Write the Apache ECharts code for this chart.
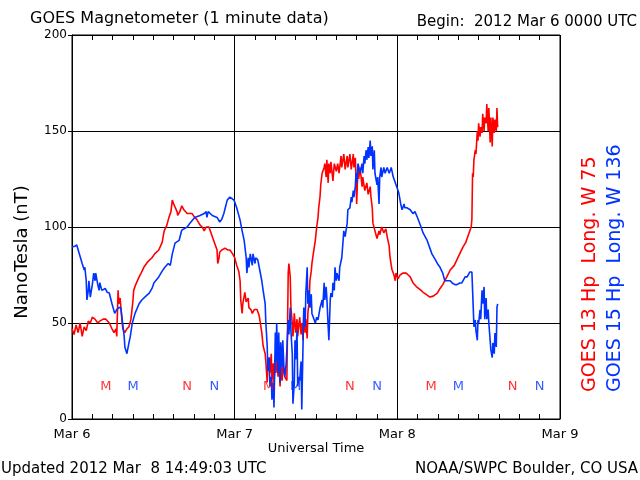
<!DOCTYPE html>
<html>
<head>
<meta charset="utf-8">
<script src="https://cdn.jsdelivr.net/npm/echarts@6/dist/echarts.min.js"></script>
<style>
html,body{margin:0;padding:0;background:#fff;}
#chart{width:640px;height:480px;}
</style>
</head>
<body>
<div id="chart"></div>
<script>
// hours since 2012 Mar 6 00:00 UTC, nanotesla
var g13 = [
[0.0,47],[0.3,44],[0.6,49],[0.9,45],[1.2,50],[1.5,43],[1.8,48],[2.1,46],[2.4,51],[2.7,50],[3.0,53],[3.4,52],[3.8,50],[4.1,51],[4.6,52],[5.0,52],[5.5,50],[5.9,47],[6.2,45],[6.5,47],[6.6,43],[6.8,67],[6.9,60],[7.1,63],[7.4,50],[7.5,47],[7.8,45],[8.1,47],[8.4,48],[8.7,52],[9.0,62],[9.1,67],[9.4,70],[9.9,74],[10.2,76],[10.6,79],[11.2,82],[11.8,84],[12.2,86],[12.8,88],[13.3,92],[13.6,98],[14.0,101],[14.3,105],[14.6,108],[14.8,114],[15.0,112],[15.2,111],[15.5,108],[15.6,106],[15.9,108],[16.2,111],[16.5,109],[17.0,107],[17.4,107],[17.7,107],[18.1,105],[18.4,104],[18.9,101],[19.2,100],[19.5,98],[19.8,100],[20.2,100],[20.5,97],[20.7,96],[20.9,93],[21.1,91],[21.4,88],[21.5,81],[21.7,84],[21.8,87],[22.1,88],[22.6,89],[23.0,88],[23.3,88],[23.7,86],[24.0,84],[24.3,80],[24.6,77],[24.8,72],[24.9,62],[25.1,55],[25.2,60],[25.5,66],[25.7,61],[26.0,63],[26.1,58],[26.4,57],[26.6,55],[26.9,57],[27.3,57],[27.6,54],[27.7,52],[28.0,45],[28.2,38],[28.5,34],[28.6,30],[28.8,19],[28.9,26],[29.1,32],[29.2,24],[29.4,34],[29.5,20],[29.7,29],[29.8,19],[30.0,30],[30.1,24],[30.2,36],[30.4,22],[30.5,32],[30.7,17],[30.8,28],[31.0,20],[31.1,29],[31.4,22],[31.7,20],[31.9,76],[32.0,81],[32.2,74],[32.3,58],[32.5,50],[32.6,43],[32.8,55],[33.0,45],[33.2,52],[33.3,43],[33.6,53],[33.8,44],[33.9,50],[34.1,41],[34.2,55],[34.4,45],[34.5,52],[34.7,42],[34.8,55],[35.0,62],[35.1,72],[35.3,77],[35.4,81],[35.6,86],[35.9,93],[36.1,100],[36.3,105],[36.4,110],[36.6,116],[36.7,122],[36.9,128],[37.2,131],[37.3,133],[37.5,126],[37.6,135],[37.8,123],[37.9,133],[38.1,128],[38.2,134],[38.5,124],[38.7,133],[39.0,129],[39.2,133],[39.4,128],[39.7,137],[39.8,131],[40.1,138],[40.3,130],[40.6,137],[40.7,131],[41.0,138],[41.2,130],[41.5,138],[41.6,131],[41.8,136],[41.9,126],[42.0,112],[42.2,132],[42.3,125],[42.5,131],[42.8,121],[42.9,126],[43.2,119],[43.5,123],[43.7,117],[44.0,121],[44.1,116],[44.3,110],[44.4,102],[44.7,98],[45.0,94],[45.3,98],[45.4,96],[45.7,100],[46.0,97],[46.3,99],[46.5,95],[46.8,90],[46.9,85],[47.1,80],[47.2,78],[47.5,75],[47.7,72],[47.8,76],[48.1,73],[48.4,75],[48.8,76],[49.3,76],[49.6,75],[49.9,74],[50.3,71],[50.8,69],[51.0,68],[51.5,67],[51.8,66],[52.2,65],[52.8,63.5],[53.3,64],[53.9,65.6],[54.3,68],[54.7,70],[55.3,74],[55.8,77.6],[56.4,80],[56.8,83],[57.2,86],[57.7,89.6],[58.1,92],[58.4,95],[58.7,98],[58.9,100],[59.0,104],[59.1,128],[59.2,126],[59.3,135],[59.5,140],[59.6,138],[59.8,150],[59.9,145],[60.0,154],[60.2,147],[60.3,152],[60.5,149],[60.6,159],[60.8,150],[60.9,157],[61.1,154],[61.2,164],[61.4,150],[61.5,162],[61.7,144],[61.8,157],[62.0,142],[62.1,157],[62.3,149],[62.4,156],[62.6,150],[62.7,162],[62.8,152]
];
var g15 = [
[0.0,89.6],[0.4,90],[0.7,90.6],[1.0,87],[1.5,81],[1.8,77.6],[1.9,79],[2.1,72],[2.2,62],[2.4,67],[2.5,72],[2.7,63.5],[3.0,70],[3.2,76],[3.4,72],[3.5,76],[3.8,70],[4.0,67],[4.1,71],[4.4,67],[4.9,68],[5.2,66],[5.5,65.6],[5.9,60],[6.3,55],[6.6,57],[6.9,58],[7.2,58],[7.4,52],[7.7,43],[7.8,37.5],[8.1,34],[8.4,39.6],[8.6,43],[8.9,50],[9.3,55],[9.9,60],[10.3,62],[10.9,64],[11.4,65.6],[11.8,68],[12.1,71],[12.8,74],[13.3,77],[13.7,79],[14.2,81],[14.5,80],[14.8,86],[15.2,91.6],[15.8,93],[16.2,98.4],[17.0,100],[17.4,102],[18.1,105],[18.9,106],[19.5,107],[19.8,108],[19.9,105],[20.1,108],[20.7,106],[21.4,105],[21.8,102.6],[22.1,104],[22.4,107],[22.9,114],[23.3,115.6],[23.9,114],[24.3,110],[24.8,103.6],[25.1,98],[25.4,93],[25.5,90],[25.7,84],[25.8,76],[26.0,84],[26.1,79],[26.3,86],[26.6,80],[26.7,86],[27.0,81],[27.1,84],[27.4,83],[27.7,77.6],[28.0,72],[28.2,67],[28.5,60],[28.6,50],[28.8,38],[28.9,25],[29.1,32],[29.2,17],[29.4,22],[29.5,10],[29.7,19],[29.8,6],[30.0,45],[30.1,30],[30.2,50],[30.4,24],[30.5,45],[30.7,19],[30.8,40],[31.0,27],[31.1,41],[31.3,24],[31.4,22],[31.6,29],[31.7,36],[31.9,51.6],[32.0,44],[32.2,58],[32.3,46],[32.5,34],[32.6,8],[32.8,19],[32.9,41],[33.0,31],[33.2,46],[33.3,17],[33.5,22],[33.6,20],[33.8,30],[33.9,5],[34.1,41],[34.2,58],[34.4,48],[34.5,65.6],[34.7,79],[34.8,60],[35.0,67],[35.1,58],[35.3,65],[35.4,55],[35.7,52],[35.9,50],[36.1,53],[36.3,51.6],[36.6,58],[36.9,62],[37.0,58],[37.2,71],[37.3,62],[37.5,68.8],[37.6,63],[37.8,48],[37.9,41],[38.1,62],[38.2,65.6],[38.4,63.5],[38.5,71],[38.7,67],[38.8,79],[39.0,72],[39.1,76],[39.4,72],[39.5,79],[39.7,78],[39.8,84],[40.0,93],[40.1,98],[40.3,95],[40.6,102],[40.7,109],[41.0,110],[41.2,115.6],[41.3,113],[41.5,119],[41.6,115.6],[41.8,121],[41.9,128],[42.0,123],[42.2,133],[42.5,128],[42.8,133],[42.9,128],[43.1,137],[43.2,133],[43.4,140],[43.5,135],[43.7,141.6],[43.8,136],[44.0,145],[44.1,137],[44.3,142],[44.4,130],[44.6,140],[44.7,128],[45.0,122],[45.1,126],[45.3,112],[45.4,126],[45.6,131],[45.7,126],[46.0,131],[46.2,128],[46.5,131],[46.8,128],[47.1,131],[47.4,126],[47.7,123],[48.0,120],[48.2,118],[48.5,112],[48.7,109],[49.0,112],[49.1,110],[49.4,110],[49.9,109],[50.3,107],[50.6,108],[51.0,104.7],[51.5,100],[51.8,96.9],[52.4,93],[52.8,89],[53.1,86],[53.6,83],[53.9,81],[54.3,79],[54.7,76],[55.0,72],[55.3,72],[55.8,72],[56.1,70.8],[56.5,70],[56.8,70],[57.2,70.8],[57.5,70.8],[58.0,74],[58.3,74],[58.7,76.6],[59.0,76.6],[59.2,58],[59.3,48],[59.5,51.6],[59.6,46],[59.8,41],[59.9,51.6],[60.0,50],[60.2,56.8],[60.3,52],[60.5,67],[60.6,60],[60.8,68.8],[60.9,52],[61.1,63],[61.2,52],[61.4,57],[61.5,50],[61.7,50],[61.8,36],[62.0,32],[62.1,39.6],[62.3,34],[62.4,44.8],[62.6,37.5],[62.7,58],[62.8,60]
];
var g13Marks = [[5,'M'],[17,'N'],[29,'M'],[41,'N'],[53,'M'],[65,'N']];
var g15Marks = [[9,'M'],[21,'N'],[33,'M'],[45,'N'],[57,'M'],[69,'N']];
var markLevel = 17;
var xTickLabels = ['Mar 6','Mar 7','Mar 8','Mar 9'];
var yMin = 0, yMax = 200, yStep = 50;
var xMin = 0, xMax = 72, xStep = 24;

var RED = '#ff0000', BLUE = '#0033ff';
var FONT = 'DejaVu Sans';

function marks(list){ return list.map(function(m){ return {value:[m[0], markLevel], name:m[1]}; }); }

var chart = echarts.init(document.getElementById('chart'), null, {renderer:'canvas'});
var option = {
  animation:false,
  backgroundColor:'#fff',
  grid:{left:72, right:80, top:35, bottom:61, show:true, borderColor:'#000', borderWidth:1, backgroundColor:'transparent'},
  xAxis:[{
    type:'value', min:xMin, max:xMax, interval:xStep, position:'bottom',
    axisLine:{show:true, lineStyle:{color:'#000', width:1}},
    axisTick:{show:true, inside:true, length:5, lineStyle:{color:'#000'}},
    minorTick:{show:true, splitNumber:8, length:5, lineStyle:{color:'#000'}},
    splitLine:{show:true, lineStyle:{color:'#000', width:1}},
    axisLabel:{margin:9, color:'#000', fontFamily:FONT, fontSize:13,
      formatter:function(v){ return xTickLabels[Math.round(v/xStep)]; }}
  },{
    type:'value', min:xMin, max:xMax, interval:xStep, position:'top',
    axisLine:{show:true, lineStyle:{color:'#000', width:1}},
    axisTick:{show:true, inside:true, length:5, lineStyle:{color:'#000'}},
    minorTick:{show:true, splitNumber:8, length:5, lineStyle:{color:'#000'}},
    splitLine:{show:false}, axisLabel:{show:false}
  }],
  yAxis:{
    type:'value', min:yMin, max:yMax, interval:yStep,
    axisLine:{show:true, lineStyle:{color:'#000', width:1}},
    axisTick:{show:true, inside:false, length:4, lineStyle:{color:'#000'}},
    splitLine:{show:true, lineStyle:{color:'#000', width:1}},
    axisLabel:{margin:5, color:'#000', fontFamily:FONT, fontSize:12}
  },
  series:[
    {type:'line', data:g13, showSymbol:false, symbol:'none', lineStyle:{color:RED, width:1.6}, z:3},
    {type:'line', data:g15, showSymbol:false, symbol:'none', lineStyle:{color:BLUE, width:1.6}, z:4},
    {type:'scatter', data:marks(g13Marks), symbolSize:0, itemStyle:{color:RED},
      label:{show:true, position:'inside', formatter:function(p){return p.name;}, color:RED, fontFamily:FONT, fontSize:13}, z:5},
    {type:'scatter', data:marks(g15Marks), symbolSize:0, itemStyle:{color:BLUE},
      label:{show:true, position:'inside', formatter:function(p){return p.name;}, color:BLUE, fontFamily:FONT, fontSize:13}, z:5}
  ],
  graphic:[
    {type:'text', x:30, y:19, style:{text:'GOES Magnetometer (1 minute data)', fill:'#000', font:'16px "DejaVu Sans"', textAlign:'left', textVerticalAlign:'middle'}},
    {type:'text', x:637, y:22, style:{text:'Begin:  2012 Mar 6 0000 UTC', fill:'#000', font:'15px "DejaVu Sans"', textAlign:'right', textVerticalAlign:'middle'}},
    {type:'text', x:22, y:252, rotation:Math.PI/2, style:{text:'NanoTesla (nT)', fill:'#000', font:'18px "DejaVu Sans"', textAlign:'center', textVerticalAlign:'middle'}},
    {type:'text', x:316, y:449, style:{text:'Universal Time', fill:'#000', font:'13px "DejaVu Sans"', textAlign:'center', textVerticalAlign:'middle'}},
    {type:'text', x:1, y:469, style:{text:'Updated 2012 Mar  8 14:49:03 UTC', fill:'#000', font:'15px "DejaVu Sans"', textAlign:'left', textVerticalAlign:'middle'}},
    {type:'text', x:638, y:469, style:{text:'NOAA/SWPC Boulder, CO USA', fill:'#000', font:'15px "DejaVu Sans"', textAlign:'right', textVerticalAlign:'middle'}},
    {type:'text', x:590, y:392, rotation:Math.PI/2, style:{text:'GOES 13 Hp  Long. W 75', fill:RED, font:'19px "DejaVu Sans"', textAlign:'left', textVerticalAlign:'middle'}},
    {type:'text', x:615, y:392, rotation:Math.PI/2, style:{text:'GOES 15 Hp  Long. W 136', fill:BLUE, font:'19px "DejaVu Sans"', textAlign:'left', textVerticalAlign:'middle'}}
  ]
};
chart.setOption(option);
</script>
</body>
</html>
